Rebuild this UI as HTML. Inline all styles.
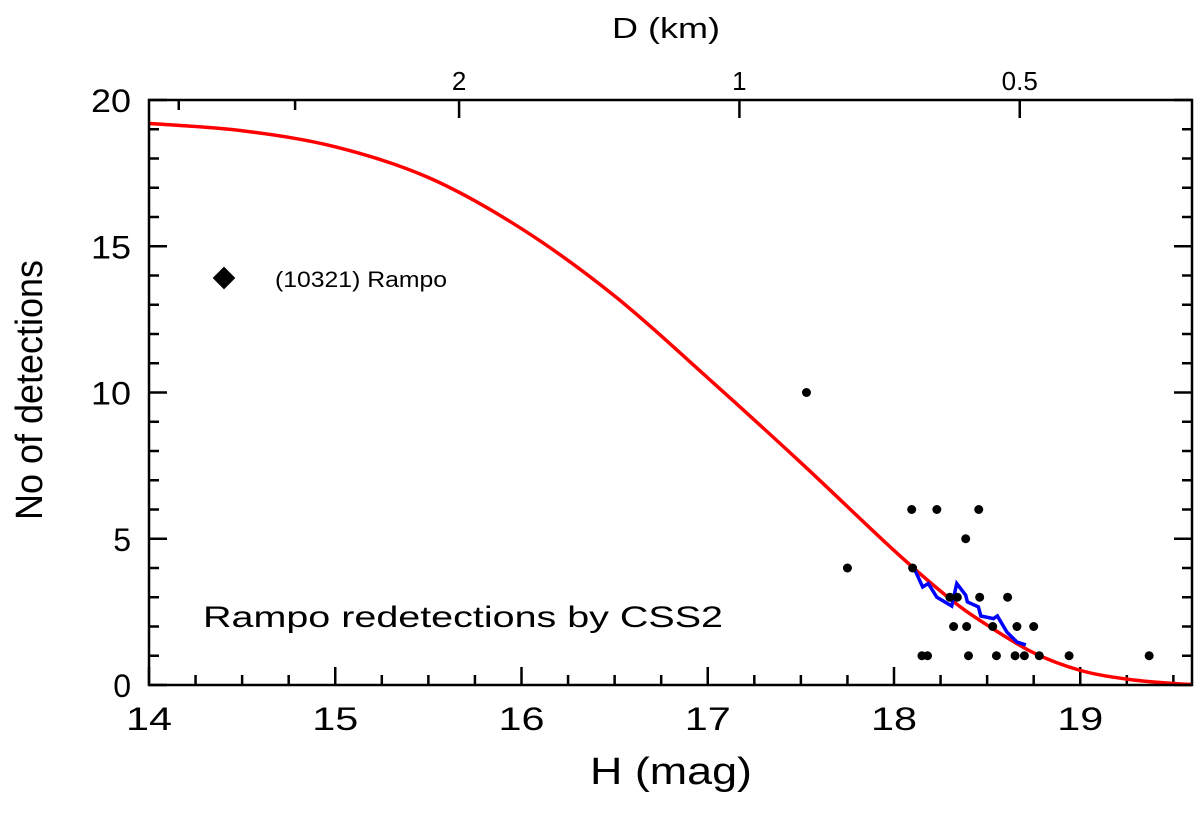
<!DOCTYPE html>
<html><head><meta charset="utf-8"><style>
html,body{margin:0;padding:0;background:#fff;}
svg{display:block;font-family:"Liberation Sans",sans-serif;}
</style></head><body>
<svg id="chart" width="1200" height="813" viewBox="0 0 1200 813">
<g id="ticks"></g>
<g id="curves"></g>
<g id="points"></g>
<rect x="149" y="100" width="1043" height="585" fill="none" stroke="#000" stroke-width="2.5"/>
<text x="612" y="38" font-size="29" textLength="108" lengthAdjust="spacingAndGlyphs">D (km)</text>
<text x="590" y="784" font-size="38" textLength="162" lengthAdjust="spacingAndGlyphs">H (mag)</text>
<text transform="translate(42,520) rotate(-90)" font-size="38" textLength="260" lengthAdjust="spacingAndGlyphs">No of detections</text>
<text x="203" y="627" font-size="30" textLength="520" lengthAdjust="spacingAndGlyphs">Rampo redetections by CSS2</text>
<rect x="216" y="270" width="16" height="16" transform="rotate(45 224 278)" fill="#000"/>
<text x="275" y="287" font-size="22" textLength="172" lengthAdjust="spacingAndGlyphs">(10321) Rampo</text>
</svg>
<script>
const xTicks=[14,15,16,17,18,19];
const yTicks=[0,5,10,15,20];
const dTicks=[4,3,2,1,0.5];
const dLabels=["","","2","1","0.5"];
const curveH=[14,14.5,15,15.5,16,16.5,17,17.5,18,18.3,18.5,18.75,19,19.25,19.5,19.6];
const curveN=[19.2,18.95,18.4,17.35,15.6,13.3,10.5,7.6,4.6,2.95,2.05,1.1,0.5,0.2,0.05,0.02];
const blueH=[18.10,18.154,18.184,18.23,18.31,18.337,18.385,18.394,18.453,18.466,18.534,18.555,18.606,18.66,18.708];
const blueN=[4.10,3.35,3.47,3.00,2.70,3.47,3.07,2.84,2.67,2.36,2.27,2.36,1.81,1.47,1.37];
const ptH=[17.53,17.75,18.095,18.23,18.455,18.385,18.10,18.30,18.34,18.46,18.61,18.32,18.39,18.53,18.66,18.75,18.15,18.18,18.40,18.55,18.65,18.70,18.78,18.94,19.37];
const ptN=[10,4,6,6,6,5,4,3,3,3,3,2,2,2,2,2,1,1,1,1,1,1,1,1,1];
const X0=149,X1=1192,Y0=685,Y1=100,HMIN=14,HMAX=19.6,NMAX=20;
const sx=h=>X0+(h-HMIN)/(HMAX-HMIN)*(X1-X0);
const sy=n=>Y0-n/NMAX*(Y0-Y1);
const dToH=d=>17.17-5*Math.log10(d);
const NS="http://www.w3.org/2000/svg";
function mk(tag,attrs,parent){const e=document.createElementNS(NS,tag);for(const k in attrs)e.setAttribute(k,attrs[k]);document.getElementById(parent).appendChild(e);return e;}
for(let h=14;h<=19.6+1e-6;h+=0.25){
  const major=Math.abs(h-Math.round(h))<1e-6;const L=major?18:10;const x=sx(h);
  const t=mk('line',{x1:x,x2:x,y1:Y0,y2:Y0-L,stroke:'#000','stroke-width':2.5},'ticks');
  
  
}
xTicks.forEach(v=>{const t=mk('text',{x:sx(v),y:Y0+45,'font-size':32,'text-anchor':'middle',textLength:46,lengthAdjust:'spacingAndGlyphs'},'ticks');t.textContent=v;
  
  });
for(let n=0;n<=20;n++){
  const L=n%5===0?18:10;const y=sy(n);
  const a=mk('line',{x1:X0,x2:X0+L,y1:y,y2:y,stroke:'#000','stroke-width':2.5},'ticks');
  
  
  const b=mk('line',{x1:X1,x2:X1-L,y1:y,y2:y,stroke:'#000','stroke-width':2.5},'ticks');
  
  
}
yTicks.forEach(v=>{const t=mk('text',{x:X0-18,y:sy(v)+12,'font-size':32,'text-anchor':'end'},'ticks');t.textContent=v;
  if(String(v).length===2){t.setAttribute('textLength',40);t.setAttribute('lengthAdjust','spacingAndGlyphs');}
  
  });
dTicks.forEach((d,i)=>{const x=sx(dToH(d));const L=dLabels[i]?18:10;
  const t=mk('line',{x1:x,x2:x,y1:Y1,y2:Y1+L,stroke:'#000','stroke-width':2.5},'ticks');
  
  
  if(dLabels[i]){const s=mk('text',{x:x,y:Y1-10,'font-size':26,'text-anchor':'middle'},'ticks');s.textContent=dLabels[i];
  
  }
});
const P=curveH.map((h,i)=>[sx(h),sy(curveN[i])]);
let d=`M${P[0][0]},${P[0][1]}`;
for(let i=0;i<P.length-1;i++){const p0=P[Math.max(0,i-1)],p1=P[i],p2=P[i+1],p3=P[Math.min(P.length-1,i+2)];
  d+=` C${p1[0]+(p2[0]-p0[0])/6},${p1[1]+(p2[1]-p0[1])/6} ${p2[0]-(p3[0]-p1[0])/6},${p2[1]-(p3[1]-p1[1])/6} ${p2[0]},${p2[1]}`;}
const rc=mk('path',{d:d,fill:'none',stroke:'#f00','stroke-width':3.5},'curves');


ptH.forEach((h,i)=>{const c=mk('circle',{cx:sx(h),cy:sy(ptN[i]),r:4.5,fill:'#000'},'points');
  
  });
const bl=mk('polyline',{points:blueH.map((h,i)=>sx(h)+','+sy(blueN[i])).join(' '),fill:'none',stroke:'#0000ff','stroke-width':3.5},'curves');


</script>
</body></html>
